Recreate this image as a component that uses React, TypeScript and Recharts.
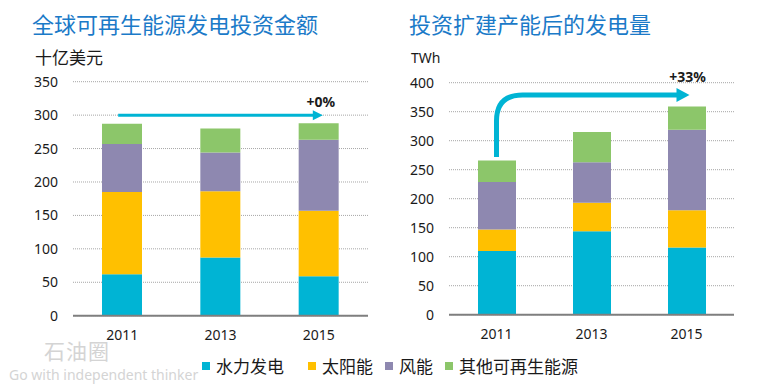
import { BarChart, Bar, XAxis, YAxis, CartesianGrid, ReferenceLine } from "recharts";

const years = ["2011", "2013", "2015"];

// 全球可再生能源发电投资金额 (十亿美元)
const investHydro = [62, 87, 59];
const investSolar = [123, 99, 98];
const investWind = [72, 58, 106];
const investOther = [30, 36, 25];
const investTicks = [0, 50, 100, 150, 200, 250, 300, 350];

// 投资扩建产能后的发电量 (TWh)
const genHydro = [110, 144, 116];
const genSolar = [37, 49, 64];
const genWind = [82, 70, 139];
const genOther = [37, 52, 40];
const genTicks = [0, 50, 100, 150, 200, 250, 300, 350, 400];

const SERIES = [
  { key: "hydro", name: "水力发电", color: "#00b4d4" },
  { key: "solar", name: "太阳能", color: "#ffc000" },
  { key: "wind", name: "风能", color: "#8e88b0" },
  { key: "other", name: "其他可再生能源", color: "#8cc66a" },
];

const investData = years.map((y, i) => ({
  year: y,
  hydro: investHydro[i],
  solar: investSolar[i],
  wind: investWind[i],
  other: investOther[i],
}));

const genData = years.map((y, i) => ({
  year: y,
  hydro: genHydro[i],
  solar: genSolar[i],
  wind: genWind[i],
  other: genOther[i],
}));

const NUM_FONT = "'Noto Sans', sans-serif";
const CJK_FONT = "'Noto Sans CJK SC', sans-serif";
const ARROW = "#00b4d4";
const TICK = { fontSize: 14, fill: "#1a1a1a", fontFamily: NUM_FONT };

function StraightArrow(props: any) {
  const { x1, y1, x2 } = props;
  const sx = x1 - 4;
  const ex = x2 + 4;
  return (
    <g>
      <line x1={sx} y1={y1} x2={ex - 8} y2={y1} stroke={ARROW} strokeWidth={3} />
      <path d={`M${ex - 10},${y1 - 5} L${ex},${y1} L${ex - 10},${y1 + 5} Z`} fill={ARROW} />
      <text x={ex - 2} y={y1 - 8} textAnchor="middle" fontSize={14} fontWeight="bold" fontFamily={NUM_FONT} fill="#1a1a1a">
        +0%
      </text>
    </g>
  );
}

function CurvedArrow(props: any) {
  const { x1, y1, x2, y2 } = props;
  const r = 26;
  const ex = x2 + 3;
  return (
    <g>
      <path
        d={`M${x1},${y1} L${x1},${y2 + r} Q${x1},${y2} ${x1 + r},${y2} L${ex - 10},${y2}`}
        fill="none"
        stroke={ARROW}
        strokeWidth={5}
      />
      <path d={`M${ex - 13},${y2 - 7} L${ex},${y2} L${ex - 13},${y2 + 7} Z`} fill={ARROW} />
      <text x={ex - 2} y={y2 - 13} textAnchor="middle" fontSize={14} fontWeight="bold" fontFamily={NUM_FONT} fill="#1a1a1a">
        +33%
      </text>
    </g>
  );
}

function StackBars({ size }: { size: number }) {
  return (
    <>
      {SERIES.map((s) => (
        <Bar key={s.key} dataKey={s.key} name={s.name} stackId="a" fill={s.color} barSize={size} isAnimationActive={false} />
      ))}
    </>
  );
}

export default function App() {
  return (
    <div style={{ position: "absolute", left: 0, top: 0, width: 775, height: 387, background: "#fff", overflow: "hidden" }}>
      <div style={{ position: "absolute", left: 32, top: 8, fontSize: 22, color: "#1b7ac8", fontFamily: CJK_FONT, lineHeight: "30px" }}>
        全球可再生能源发电投资金额
      </div>
      <div style={{ position: "absolute", left: 409, top: 8, fontSize: 22, color: "#1b7ac8", fontFamily: CJK_FONT, lineHeight: "30px" }}>
        投资扩建产能后的发电量
      </div>
      <div style={{ position: "absolute", left: 35, top: 45, fontSize: 17, color: "#1a1a1a", fontFamily: CJK_FONT, lineHeight: "24px" }}>
        十亿美元
      </div>
      <div style={{ position: "absolute", left: 411, top: 48, fontSize: 14, color: "#1a1a1a", fontFamily: NUM_FONT, lineHeight: "20px" }}>
        TWh
      </div>

      <div style={{ position: "absolute", left: 0, top: 0 }}>
        <BarChart width={390} height={387} data={investData} margin={{ top: 81.7, right: 22, left: 0, bottom: 41.3 }}>
          <CartesianGrid vertical={false} stroke="#a6a6a6" strokeDasharray="1 1" />
          <XAxis dataKey="year" height={30} tickLine={false} tickSize={0} tickMargin={14} axisLine={{ stroke: "#7f7f7f", strokeWidth: 2 }} tick={TICK} />
          <YAxis width={73} domain={[0, 350]} ticks={investTicks} axisLine={false} tickLine={false} tickSize={0} tickMargin={15} tick={TICK} />
          {StackBars({ size: 40 })}
          <ReferenceLine segment={[{ x: "2011", y: 300 }, { x: "2015", y: 300 }]} stroke="none" shape={StraightArrow} ifOverflow="visible" />
        </BarChart>
      </div>

      <div style={{ position: "absolute", left: 390, top: 0 }}>
        <BarChart width={385} height={387} data={genData} margin={{ top: 82.7, right: 41, left: 0, bottom: 42.3 }}>
          <CartesianGrid vertical={false} stroke="#a6a6a6" strokeDasharray="1 1" />
          <XAxis dataKey="year" height={30} tickLine={false} tickSize={0} tickMargin={14} axisLine={{ stroke: "#7f7f7f", strokeWidth: 2 }} tick={TICK} />
          <YAxis width={59} domain={[0, 400]} ticks={genTicks} axisLine={false} tickLine={false} tickSize={0} tickMargin={15} tick={TICK} />
          {StackBars({ size: 38 })}
          <ReferenceLine segment={[{ x: "2011", y: 272 }, { x: "2015", y: 379 }]} stroke="none" shape={CurvedArrow} ifOverflow="visible" />
        </BarChart>
      </div>

      <div style={{ position: "absolute", left: 44, top: 338, fontSize: 21, color: "#d4d4d4", fontFamily: CJK_FONT, lineHeight: "24px", letterSpacing: 1 }}>
        石油圈
      </div>
      <div style={{ position: "absolute", left: 9, top: 366, fontSize: 14, color: "#d4d4d4", fontFamily: NUM_FONT, lineHeight: "18px" }}>
        Go with independent thinker
      </div>

      <div style={{ position: "absolute", left: 202, top: 354, display: "flex", alignItems: "center", fontFamily: CJK_FONT, fontSize: 17, color: "#1a1a1a", lineHeight: "24px" }}>
        {SERIES.map((s, i) => (
          <div key={s.key} style={{ display: "flex", alignItems: "center", marginRight: i === 0 ? 24 : 12 }}>
            <span style={{ display: "inline-block", width: 8, height: 8, background: s.color, marginRight: 6 }} />
            <span>{s.name}</span>
          </div>
        ))}
      </div>
    </div>
  );
}
